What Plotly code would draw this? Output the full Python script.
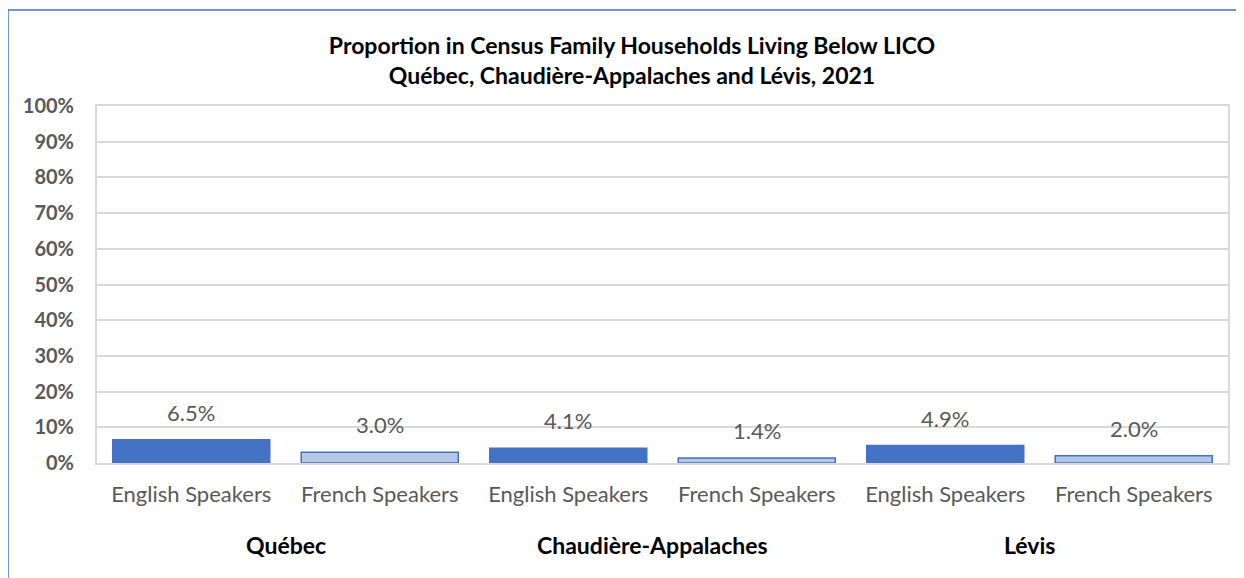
import plotly.graph_objects as go

regions = ["Québec", "Chaudière-Appalaches", "Lévis"]
groups = ["English Speakers", "French Speakers"]
values = [0.065, 0.030, 0.041, 0.014, 0.049, 0.020]
labels = ["6.5%", "3.0%", "4.1%", "1.4%", "4.9%", "2.0%"]
bar_colors = ["#4472C4", "#B4C7E7"]

tick_text = [g for _ in regions for g in groups]
xpos = list(range(len(tick_text)))
colors = [bar_colors[i % 2] for i in xpos]

FONT = "Lato"
GREY = "#595959"
W, H = 1236, 570
L, R, T, B = 89, 16, 98, 115

fig = go.Figure()
fig.add_trace(go.Bar(
    x=xpos, y=values,
    marker=dict(color=colors, line=dict(color="#4472C4", width=1.5)),
    hoverinfo="skip", showlegend=False,
))

for xi, v, t in zip(xpos, values, labels):
    fig.add_annotation(x=xi, y=v, text=t, showarrow=False, yanchor="bottom",
                       yshift=12, font=dict(family=FONT, size=22, color=GREY))

group_shift = [0, -10, -10]
for gi, r in enumerate(regions):
    fig.add_annotation(x=gi * 2 + 0.5, y=0, yref="y", text=r, showarrow=False,
                       yanchor="middle", yshift=-82, xshift=group_shift[gi],
                       font=dict(family=FONT, size=23, color="#000000", weight="bold"))

# outer chart border
fig.add_shape(type="rect", xref="paper", yref="paper",
              x0=-0.0787, x1=1.02, y0=-0.5, y1=1.269,
              line=dict(color="#4472C4", width=1.5), layer="below")

fig.update_layout(
    width=W, height=H,
    margin=dict(l=L, r=R, t=T, b=B),
    paper_bgcolor="white", plot_bgcolor="white",
    bargap=0.167,
    title=dict(
        text="Proportion in Census Family Households Living Below LICO<br>Québec, Chaudière-Appalaches and Lévis, 2021",
        x=(624 - L) / (W - L - R), xref="paper", xanchor="center",
        y=1 - 46 / H, yanchor="middle",
        font=dict(family=FONT, size=23, color="#000000", weight="bold"),
    ),
    xaxis=dict(
        tickmode="array", tickvals=xpos, ticktext=tick_text,
        range=[-0.5, len(xpos) - 0.5],
        tickfont=dict(family=FONT, size=22, color=GREY),
        ticks="outside", ticklen=11, tickcolor="rgba(0,0,0,0)",
        showline=True, linecolor="#D9D9D9", linewidth=2, mirror=True,
        showgrid=False, zeroline=False,
    ),
    yaxis=dict(
        range=[0, 1], tickmode="array",
        tickvals=[i / 10 for i in range(11)], tickformat=".0%",
        tickfont=dict(family=FONT, size=20, color=GREY, weight="bold"),
        ticks="outside", ticklen=17, tickcolor="rgba(0,0,0,0)",
        showline=True, linecolor="#D9D9D9", linewidth=2, mirror=True,
        gridcolor="#D9D9D9", gridwidth=1.5, zeroline=False,
    ),
)

fig.write_html("out.html")
